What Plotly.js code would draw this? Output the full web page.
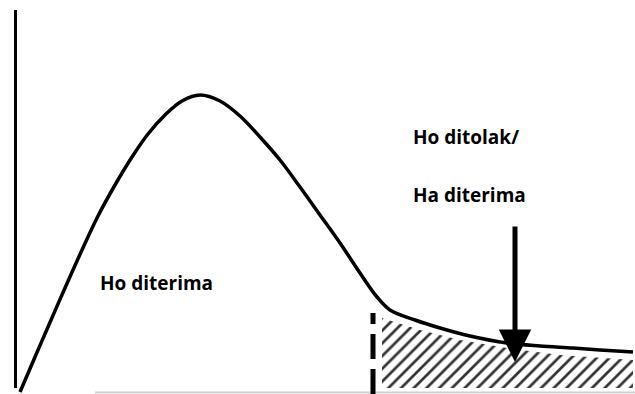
<!DOCTYPE html>
<html>
<head>
<meta charset="utf-8">
<script src="https://cdn.plot.ly/plotly-3.0.1.min.js"></script>
<style>
html,body{margin:0;padding:0;background:#fff;}
#chart{width:635px;height:394px;}
</style>
</head>
<body>
<div id="chart"></div>
<script>
// Curve (x position, height above baseline)
const curveX = [20,35,48,65,82,98,115,132,148,165,182,200,220,240,260,280,300,320,340,360,377,390,415,440,470,507,540,573,600,633];
const curveY = [2,37,67,106,144,178,209,237,260,279,293,299,293,278,257,234,207,179,151,121,97,84,74,66,58,51,48,46,44,42];
// Rejection region (hatched) upper boundary
const regionX = [382,420,460,507,560,633];
const regionY = [76,64,54,46,39,34];
const regionBase = 6;
// Labels
const labels = ["Ho diterima","Ho ditolak/","Ha diterima"];
const labelX = [98,411,411];
const labelY = [111,257,199];
// critical value & arrow
const critX = 373;
const arrowX = 515, arrowTop = 169, arrowTip = 32;

const hx = regionX.concat([regionX[regionX.length-1], regionX[0]]);
const hy = regionY.concat([regionBase, regionBase]);

const traces = [
  {x: hx, y: hy, mode:'lines', fill:'toself', line:{width:0, color:'rgba(0,0,0,0)'},
   fillcolor:'white',
   fillpattern:{shape:'/', fgcolor:'#333', bgcolor:'white', size:9, solidity:0.3},
   hoverinfo:'skip', showlegend:false},
  {x: curveX, y: curveY, mode:'lines', line:{color:'#000', width:3.5, shape:'spline', smoothing:1},
   hoverinfo:'skip', showlegend:false}
];

const annotations = labels.map((t,i)=>({x:labelX[i], y:labelY[i], xref:'x', yref:'y', text:'<b>'+t+'</b>',
  showarrow:false, xanchor:'left', yanchor:'middle', font:{family:'Open Sans', size:19, color:'#000'}}));
annotations.push({x:arrowX, y:arrowTip, ax:arrowX, ay:arrowTop, axref:'x', ayref:'y', xref:'x', yref:'y',
  text:'', showarrow:true, arrowhead:2, arrowsize:1.3, arrowwidth:5, arrowcolor:'#000'});

const layout = {
  width:635, height:394, margin:{l:0,r:0,t:0,b:0}, paper_bgcolor:'#fff', plot_bgcolor:'#fff',
  xaxis:{range:[0,635], visible:false, fixedrange:true},
  yaxis:{range:[0,394], visible:false, fixedrange:true},
  showlegend:false,
  shapes:[
    {type:'line', xref:'x', yref:'y', x0:15.5, x1:15.5, y0:6, y1:384, line:{color:'#000', width:3}},
    {type:'line', xref:'x', yref:'y', x0:95, x1:635, y0:1.5, y1:1.5, line:{color:'#d0d0d0', width:2}},
    {type:'line', xref:'x', yref:'y', x0:critX, x1:critX, y0:0, y1:81, line:{color:'#000', width:5, dash:'25px,10px'}}
  ],
  annotations: annotations
};
Plotly.newPlot('chart', traces, layout, {staticPlot:true, displayModeBar:false});
</script>
</body>
</html>
